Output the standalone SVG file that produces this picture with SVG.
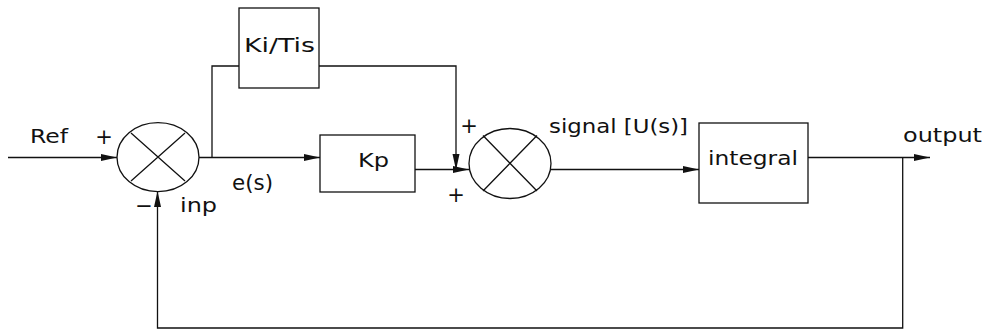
<svg xmlns="http://www.w3.org/2000/svg" width="987" height="330" viewBox="0 0 987 330">
<defs>
<style>
.blk{fill:#fff;stroke:#111;stroke-width:1.3}
.sum{fill:#fff;stroke:#111;stroke-width:1.3}
.x{stroke:#111;stroke-width:1.3;fill:none}
.ln{fill:none;stroke:#111;stroke-width:1.3}
.t{font-family:"DejaVu Sans",Verdana,sans-serif;font-size:20px;fill:#111}
.s{font-family:"DejaVu Sans",sans-serif;font-size:21px;fill:#111}
</style>
<marker id="ar" markerUnits="userSpaceOnUse" markerWidth="17" markerHeight="8" refX="16" refY="4" orient="auto">
<path d="M0,0.5 L16,4 L0,7.5 z" fill="#111"/>
</marker>
</defs>
<rect width="987" height="330" fill="#fff"/>
<g id="connectors">
<path class="ln" d="M8,157.5 H117" marker-end="url(#ar)"/>
<path class="ln" d="M199,157.5 H320" marker-end="url(#ar)"/>
<path class="ln" d="M212,157.5 V66 H239"/>
<path class="ln" d="M319,66 H456 V170" marker-end="url(#ar)"/>
<path class="ln" d="M415,169.5 H469" marker-end="url(#ar)"/>
<path class="ln" d="M551,169.5 H699" marker-end="url(#ar)"/>
<path class="ln" d="M808,157.5 H930" marker-end="url(#ar)"/>
<path class="ln" d="M902.7,157.5 V328 H157.5 V191" marker-end="url(#ar)"/>
</g>
<g id="sum1">
<ellipse class="sum" cx="158" cy="157.2" rx="41" ry="34.5"/>
<path class="x" d="M131,133 L185,181 M185,133 L131,181"/>
</g>
<g id="kitis">
<rect class="blk" x="239" y="8" width="80" height="80"/>
<text class="t" x="244" y="52" textLength="71" lengthAdjust="spacingAndGlyphs">Ki/Tis</text>
</g>
<g id="kp">
<rect class="blk" x="320" y="135" width="95" height="57"/>
<text class="t" x="358" y="167" textLength="31" lengthAdjust="spacingAndGlyphs">Kp</text>
</g>
<g id="sum2">
<ellipse class="sum" cx="510" cy="163.5" rx="41" ry="35"/>
<path class="x" d="M483,135.5 L537,191 M537,135.5 L483,191"/>
</g>
<g id="integral">
<rect class="blk" x="699" y="123" width="109" height="80"/>
<text class="t" x="708" y="165" textLength="90" lengthAdjust="spacingAndGlyphs">integral</text>
</g>
<g id="labels">
<text class="t" x="30" y="143" textLength="38" lengthAdjust="spacingAndGlyphs">Ref</text>
<text class="s" x="104" y="144" text-anchor="middle">+</text>
<text class="s" x="144" y="213" text-anchor="middle">−</text>
<text class="t" x="180" y="212" textLength="37" lengthAdjust="spacingAndGlyphs">inp</text>
<text class="t" x="232" y="190" font-size="22" style="font-size:22px" textLength="41" lengthAdjust="spacingAndGlyphs">e(s)</text>
<text class="s" x="469" y="133" text-anchor="middle">+</text>
<text class="s" x="456" y="202" text-anchor="middle">+</text>
<text class="t" x="549" y="133" textLength="139" lengthAdjust="spacingAndGlyphs">signal [U(s)]</text>
<text class="t" x="903" y="142" textLength="79" lengthAdjust="spacingAndGlyphs">output</text>
</g>
</svg>
